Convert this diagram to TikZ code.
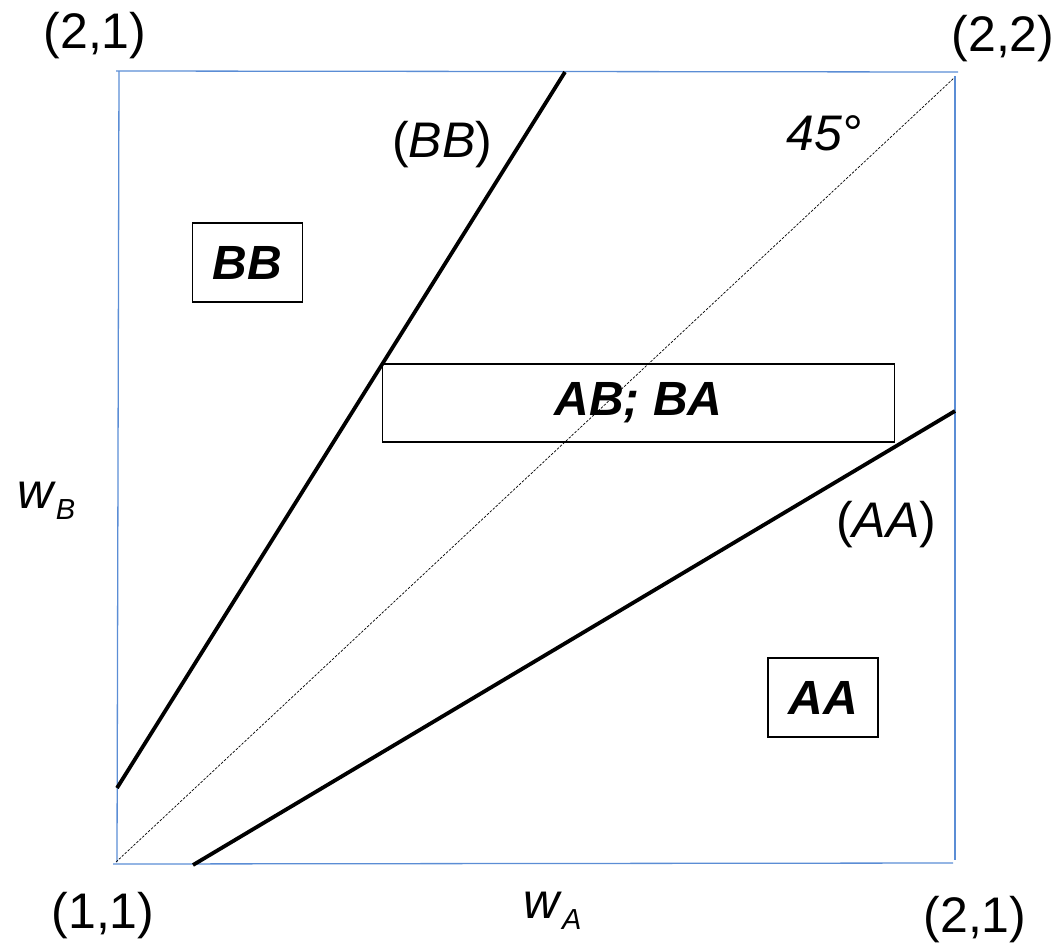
\documentclass[tikz,border=0pt]{standalone}
\usepackage{fontspec}
\setmainfont{Liberation Sans}
\definecolor{frameblue}{RGB}{91,141,213}
\begin{document}
\begin{tikzpicture}[x=1pt,y=-1pt,
  frame/.style={draw=frameblue,line width=1.3pt},
  border/.style={black,line width=3.8pt},
  diag/.style={black,line width=0.7pt,dash pattern=on 2.5pt off 1.5pt},
  region/.style={draw=black,line width=1.8pt,inner sep=0pt,font=\fontsize{48}{56}\selectfont\bfseries\itshape},
  lbl/.style={inner sep=0pt,anchor=base,font=\fontsize{50}{58}\selectfont}]
\useasboundingbox (0,0) rectangle (1057,946);
% frame corners
\coordinate (tl) at (116,71);
\coordinate (tr) at (958,72);
\coordinate (rt) at (955,76);
\coordinate (rb) at (955,860);
\coordinate (bl) at (113,864);
\coordinate (br) at (953,863);
\coordinate (lt) at (119,71);
\coordinate (lb) at (117,862);
\draw[frame] (tl) -- (tr);
\draw[frame] (rt) -- (rb);
\draw[frame] (bl) -- (br);
\draw[frame] (lt) -- (lb);
% 45 degree
\coordinate (d0) at (116,862);
\coordinate (d1) at (954,78);
\draw[diag] (d0) -- (d1);
% boundary lines
\coordinate (bb0) at (117,788);
\coordinate (bb1) at (565,72);
\draw[border] (bb0) -- (bb1);
\coordinate (aa0) at (193,865);
\coordinate (aa1) at (955,411);
\draw[border] (aa0) -- (aa1);
% region boxes
\node[region,minimum width=110pt,minimum height=79pt] (BB) at (247.5,262.5) {BB};
\node[region,minimum width=512pt,minimum height=78pt] (ABBA) at (638.5,403) {AB; BA};
\node[region,minimum width=110pt,minimum height=79pt] (AA) at (823,697.5) {AA};
% corner labels
\node[lbl] (c21t) at (95,48) {(2,1)};
\node[lbl] (c22) at (1003,51) {(2,2)};
\node[lbl] (c11) at (103,928) {(1,1)};
\node[lbl] (c21b) at (975,932) {(2,1)};
% line labels
\node[lbl] (lBB) at (442,157) {(\textit{BB})};
\node[lbl] (l45) at (824,150) {\textit{45°}};
\node[lbl] (lAA) at (886,537) {(\textit{AA})};
% axis labels
\node[lbl,anchor=base west] (wB) at (17,508) {\textit{w}\raisebox{-11pt}{\fontsize{29}{31}\selectfont\textit{B}}};
\node[lbl,anchor=base west] (wA) at (523,918) {\textit{w}\raisebox{-11pt}{\fontsize{29}{31}\selectfont\textit{A}}};
\end{tikzpicture}
\end{document}
